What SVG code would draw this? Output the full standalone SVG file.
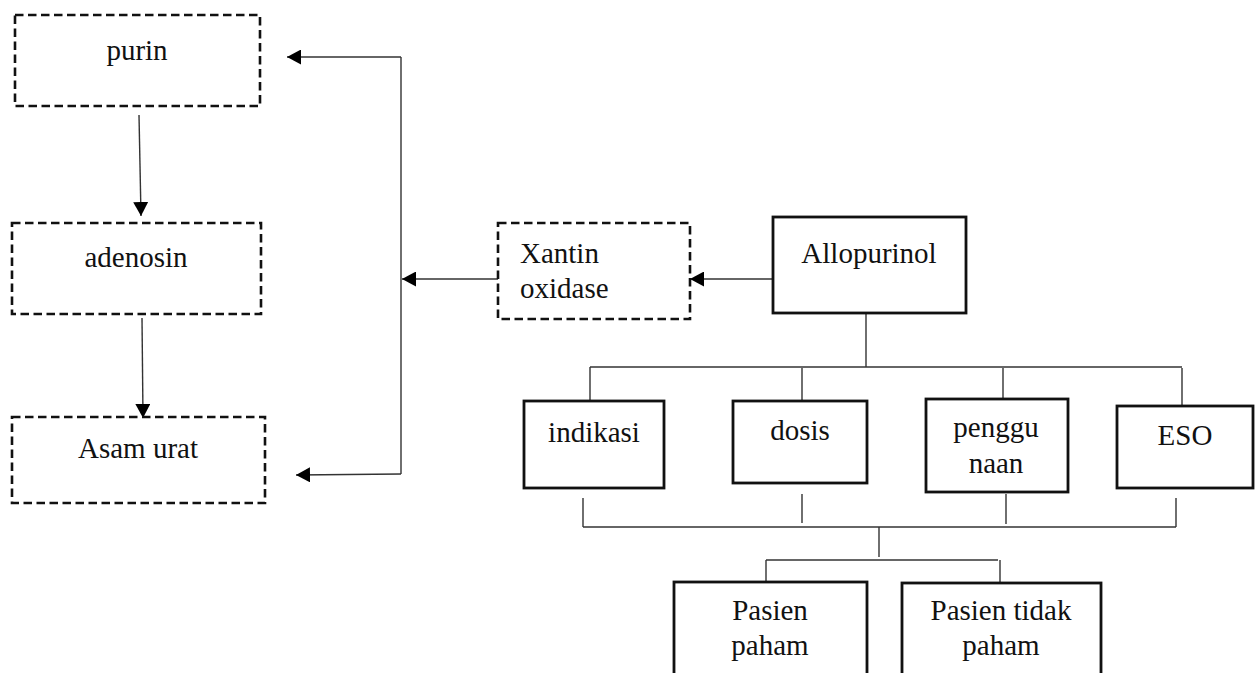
<svg xmlns="http://www.w3.org/2000/svg" width="1257" height="673" viewBox="0 0 1257 673">
<style>
.t{font-family:"Liberation Serif","Times New Roman",serif;font-size:29px;fill:#111}
.c{text-anchor:middle}
.dash{fill:none;stroke:#111;stroke-width:2.6;stroke-dasharray:8.5 4.5}
.solid{fill:none;stroke:#111;stroke-width:2.8}
.ln{fill:none;stroke:#333;stroke-width:1.4}
</style>
<defs>
<marker id="ah" viewBox="0 0 14 15" refX="14" refY="7.5" markerWidth="14" markerHeight="15" markerUnits="userSpaceOnUse" orient="auto">
<path d="M0,0 L14,7.5 L0,15 z" fill="#000"/>
</marker>
</defs>
<g id="connectors">
<line class="ln" x1="139" y1="115" x2="141" y2="216" marker-end="url(#ah)"/>
<line class="ln" x1="142" y1="318" x2="143" y2="418" marker-end="url(#ah)"/>
<polyline class="ln" points="401,57 401,474"/>
<line class="ln" x1="401" y1="57" x2="287" y2="57" marker-end="url(#ah)"/>
<line class="ln" x1="401" y1="474" x2="296" y2="475" marker-end="url(#ah)"/>
<line class="ln" x1="498" y1="279" x2="402" y2="279" marker-end="url(#ah)"/>
<line class="ln" x1="773" y1="279" x2="690" y2="279" marker-end="url(#ah)"/>
<line class="ln" x1="866" y1="313" x2="866" y2="367"/>
<line class="ln" x1="590" y1="367" x2="1182" y2="367"/>
<line class="ln" x1="590" y1="367" x2="590" y2="401"/>
<line class="ln" x1="802" y1="368" x2="802" y2="401"/>
<line class="ln" x1="1003" y1="368" x2="1003" y2="399"/>
<line class="ln" x1="1182" y1="368" x2="1182" y2="406"/>
<line class="ln" x1="583" y1="498" x2="583" y2="527"/>
<line class="ln" x1="802" y1="494" x2="802" y2="523"/>
<line class="ln" x1="1006" y1="494" x2="1006" y2="524"/>
<line class="ln" x1="1176" y1="498" x2="1176" y2="527"/>
<line class="ln" x1="583" y1="527" x2="1176" y2="527"/>
<line class="ln" x1="879" y1="527" x2="879" y2="557"/>
<line class="ln" x1="766" y1="560" x2="998" y2="560"/>
<line class="ln" x1="766" y1="560" x2="766" y2="582"/>
<line class="ln" x1="1000" y1="560" x2="1000" y2="583"/>
</g>
<g id="purin"><rect class="dash" x="15" y="15" width="245" height="91"/><text class="t c" x="137" y="60">purin</text></g>
<g id="adenosin"><rect class="dash" x="12" y="223" width="249" height="91"/><text class="t c" x="136" y="267">adenosin</text></g>
<g id="asam-urat"><rect class="dash" x="12" y="417" width="253" height="86"/><text class="t c" x="138" y="458">Asam urat</text></g>
<g id="xantin"><rect class="dash" x="498" y="223" width="192" height="96"/><text class="t" x="520" y="263">Xantin</text><text class="t" x="520" y="298">oxidase</text></g>
<g id="allopurinol"><rect class="solid" x="773" y="217" width="193" height="96"/><text class="t c" x="869" y="263">Allopurinol</text></g>
<g id="indikasi"><rect class="solid" x="524" y="401" width="140" height="87"/><text class="t c" x="594" y="442">indikasi</text></g>
<g id="dosis"><rect class="solid" x="733" y="401" width="134" height="82"/><text class="t c" x="800" y="440">dosis</text></g>
<g id="penggunaan"><rect class="solid" x="926" y="399" width="142" height="93"/><text class="t c" x="996" y="437">penggu</text><text class="t c" x="996" y="473">naan</text></g>
<g id="eso"><rect class="solid" x="1117" y="406" width="136" height="82"/><text class="t c" x="1185" y="445">ESO</text></g>
<g id="pasien-paham"><rect class="solid" x="674" y="582" width="193" height="100"/><text class="t c" x="770" y="620">Pasien</text><text class="t c" x="770" y="655">paham</text></g>
<g id="pasien-tidak-paham"><rect class="solid" x="902" y="583" width="199" height="100"/><text class="t c" x="1001" y="620">Pasien tidak</text><text class="t c" x="1001" y="655">paham</text></g>
</svg>
